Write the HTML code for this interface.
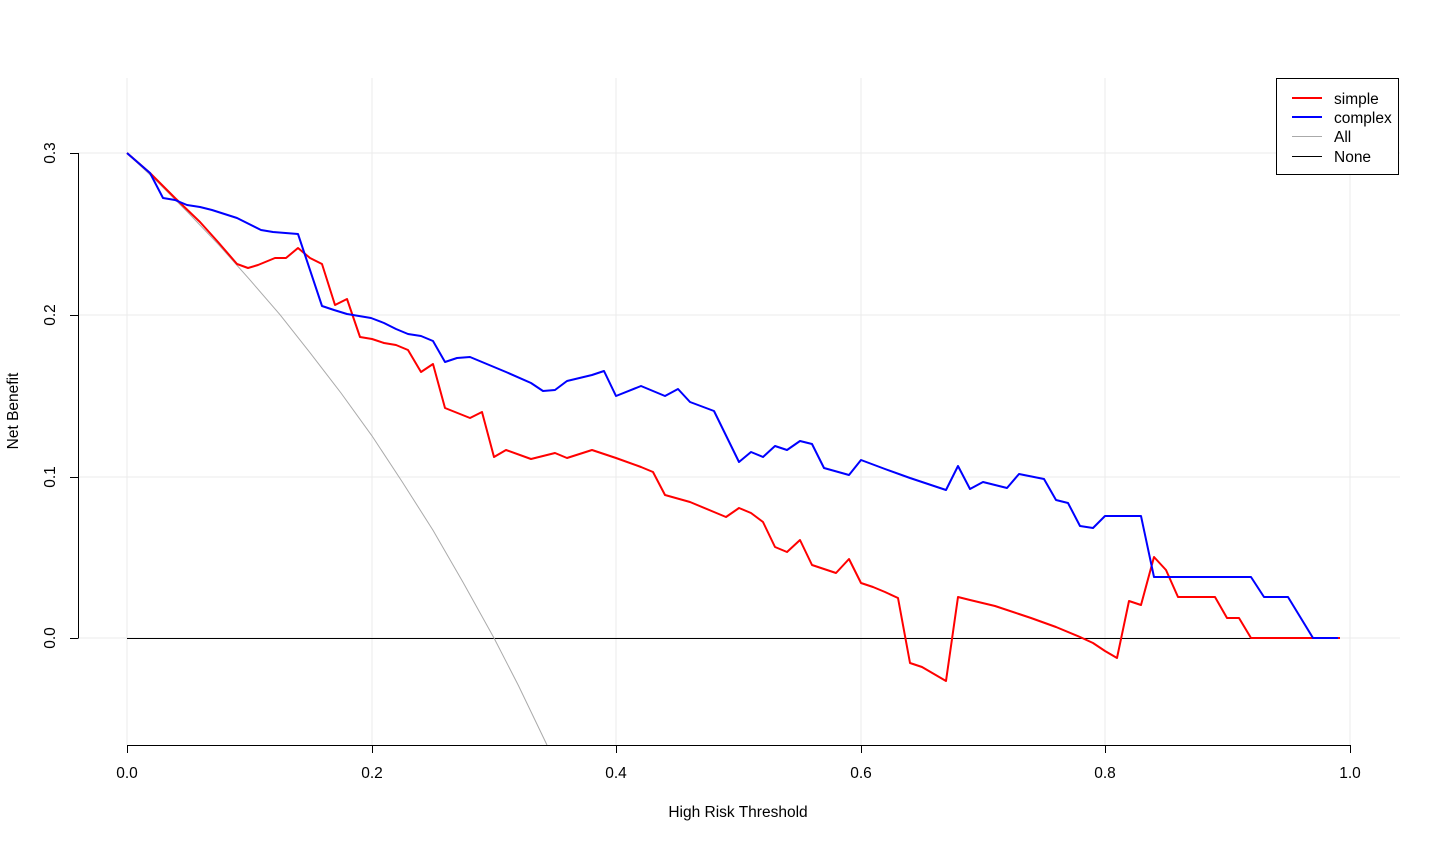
<!DOCTYPE html>
<html><head><meta charset="utf-8"><style>html,body{margin:0;padding:0;background:#fff}svg{display:block}text{font-family:"Liberation Sans",Arial,sans-serif;font-size:15.5px;fill:#000}</style></head>
<body>
<svg width="1440" height="842" viewBox="0 0 1440 842">
<defs><clipPath id="c"><rect x="78" y="78" width="1322" height="667"/></clipPath></defs>
<g stroke="#ebebeb" stroke-width="1">
<line x1="127" y1="78" x2="127" y2="745"/><line x1="372" y1="78" x2="372" y2="745"/><line x1="616" y1="78" x2="616" y2="745"/><line x1="861" y1="78" x2="861" y2="745"/><line x1="1105" y1="78" x2="1105" y2="745"/><line x1="1350" y1="78" x2="1350" y2="745"/>
<line x1="78" y1="153" x2="1400" y2="153"/><line x1="78" y1="315" x2="1400" y2="315"/><line x1="78" y1="477" x2="1400" y2="477"/><line x1="78" y1="638" x2="1400" y2="638"/>
</g>
<g stroke="#000" stroke-width="1" fill="none">
<path d="M78.5,153V638.5M70,153.5H78M70,315.5H78M70,477.5H78M70,638.5H78"/>
<path d="M127,745.5H1350M127.5,745v8M372.5,745v8M616.5,745v8M861.5,745v8M1105.5,745v8M1350.5,745v8"/>
</g>
<g>
<text x="127" y="778" text-anchor="middle">0.0</text><text x="372" y="778" text-anchor="middle">0.2</text><text x="616" y="778" text-anchor="middle">0.4</text><text x="861" y="778" text-anchor="middle">0.6</text><text x="1105" y="778" text-anchor="middle">0.8</text><text x="1350" y="778" text-anchor="middle">1.0</text>
<text transform="translate(55,153) rotate(-90)" text-anchor="middle">0.3</text>
<text transform="translate(55,315) rotate(-90)" text-anchor="middle">0.2</text>
<text transform="translate(55,477) rotate(-90)" text-anchor="middle">0.1</text>
<text transform="translate(55,638) rotate(-90)" text-anchor="middle">0.0</text>
<text x="738" y="817" text-anchor="middle">High Risk Threshold</text>
<text transform="translate(18,411) rotate(-90)" text-anchor="middle">Net Benefit</text>
</g>
<g clip-path="url(#c)" fill="none">
<line x1="127" y1="638.5" x2="1340" y2="638.5" stroke="#000" stroke-width="1"/>
<polyline stroke="#aaa" stroke-width="1" points="127,153 157.6,182 188,212.5 218.7,244.8 249,278.8 280,314.7 310,352.7 341,393 372,435.9 402,481.5 433,530.2 463,582.2 494,638 518.4,685.5 546.5,744 548,748"/>
<polyline stroke="#ff0000" stroke-width="2" stroke-linejoin="round" points="127,153 150,173 175,198 200,222 218,242 237,264 248,268 258,265 275,258 286,258 298,248 310,258 322,264 335,305 347,299 360,337 372,339 384,343 396,345 408,350 421,372 433,364 445,408 470,418 482,412 494,457 506,450 531,459 555,453 567,458 592,450 616,458 641,467 653,472 665,495 690,502 714,512 726,517 739,508 751,513 763,522 775,547 787,552 800,540 812,565 836,573 849,559 861,583 873,587 885,592 898,598 910,663 922,667 934,674 946,681 958,597 970,600 995,606 1019,614 1031,618 1056,627 1080,637 1093,643 1105,651 1117,658 1129,601 1141,605 1154,557 1166,570 1178,597 1215,597 1227,618 1239,618 1251,638 1340,638"/>
<polyline stroke="#0000ff" stroke-width="2" stroke-linejoin="round" points="127,153 150,173 163,198 175,200 187,205 200,207 212,210 237,218 261,230 273,232 298,234 322,306 334,310 347,314 371,318 384,323 396,329 408,334 421,336 433,341 445,362 457,358 470,357 494,367 506,372 531,383 543,391 555,390 567,381 592,375 604,371 616,396 641,386 665,396 678,389 690,402 714,411 739,462 751,452 763,457 775,446 787,450 800,441 812,444 824,468 849,475 861,460 885,469 910,478 946,490 958,466 970,489 983,482 1007,488 1019,474 1044,479 1056,500 1068,503 1080,526 1093,528 1105,516 1141,516 1154,577 1251,577 1264,597 1288,597 1313,638 1338,638"/>
</g>
<rect x="1276.5" y="78.5" width="122" height="96" fill="#fff" stroke="#000" stroke-width="1"/>
<line x1="1292" y1="98" x2="1322" y2="98" stroke="#ff0000" stroke-width="2"/>
<line x1="1292" y1="117" x2="1322" y2="117" stroke="#0000ff" stroke-width="2"/>
<line x1="1292" y1="136.5" x2="1322" y2="136.5" stroke="#aaa" stroke-width="1"/>
<line x1="1292" y1="156.5" x2="1322" y2="156.5" stroke="#000" stroke-width="1"/>
<text x="1334" y="104">simple</text><text x="1334" y="123">complex</text><text x="1334" y="142">All</text><text x="1334" y="162">None</text>
</svg>
</body></html>
